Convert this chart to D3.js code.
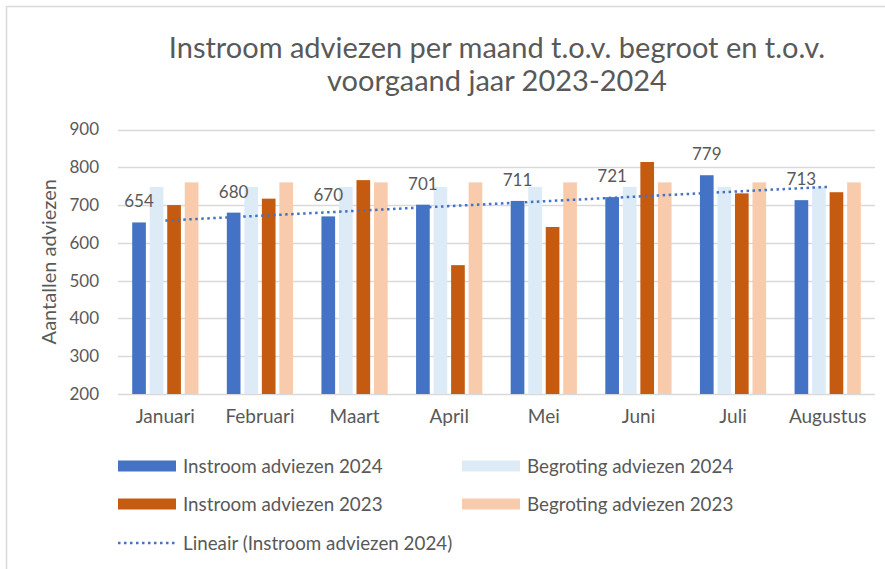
<!DOCTYPE html>
<html>
<head>
<meta charset="utf-8">
<script src="https://cdn.jsdelivr.net/npm/d3@7"></script>
<style>
  html, body { margin: 0; padding: 0; background: #fff; }
  svg { display: block; }
  text { font-family: Lato, "Open Sans", sans-serif; fill: #595959; }
</style>
</head>
<body>
<svg id="chart" width="885" height="569"></svg>
<script>
// ---- Data ----
const months = ["Januari", "Februari", "Maart", "April", "Mei", "Juni", "Juli", "Augustus"];
const instroom2024 = [654, 680, 670, 701, 711, 721, 779, 713];
const begroting2024 = [748, 748, 748, 748, 748, 748, 748, 748];
const instroom2023 = [700, 717, 766, 541, 642, 814, 731, 734];
const begroting2023 = [760, 760, 760, 760, 760, 760, 760, 760];
const yTicks = [200, 300, 400, 500, 600, 700, 800, 900];

const seriesNames = ["Instroom adviezen 2024", "Begroting adviezen 2024", "Instroom adviezen 2023", "Begroting adviezen 2023"];
const seriesValues = [instroom2024, begroting2024, instroom2023, begroting2023];
const colors = ["#4472C4", "#DDEBF7", "#C55A11", "#F8CBAD"];
const trendName = "Lineair (Instroom adviezen 2024)";

const svg = d3.select("#chart");

// chart border
svg.append("rect").attr("x", 6.5).attr("y", 6.5).attr("width", 900).attr("height", 600)
  .attr("fill", "none").attr("stroke", "#d9d9d9").attr("stroke-width", 1.5);

const plot = { left: 118, right: 875, top: 129.5, bottom: 394 };

const x0 = d3.scaleBand().domain(months).range([plot.left, plot.right]).paddingInner(0).paddingOuter(0);
const groupPad = 0.15;
const x1 = d3.scaleBand().domain(d3.range(4))
  .range([x0.bandwidth() * groupPad, x0.bandwidth() * (1 - groupPad)]).paddingInner(0.22);
const y = d3.scaleLinear().domain([200, 900]).range([plot.bottom, plot.top]);

// gridlines
svg.append("g").selectAll("line").data(yTicks).join("line")
  .attr("x1", plot.left).attr("x2", plot.right)
  .attr("y1", d => Math.round(y(d)) + 0.5).attr("y2", d => Math.round(y(d)) + 0.5)
  .attr("stroke", "#d9d9d9").attr("stroke-width", 1.5);

// y axis labels
const yAxis = d3.axisLeft(y).tickValues(yTicks).tickSize(0).tickPadding(0);
const yg = svg.append("g").attr("transform", `translate(${plot.left - 19},0)`).call(yAxis);
yg.select(".domain").remove();
yg.selectAll("text").attr("font-size", 17).style("fill", "#595959").attr("font-family", "Lato");

// x axis labels
const xAxis = d3.axisBottom(x0).tickSize(0).tickPadding(0);
const xg = svg.append("g").attr("transform", `translate(0,${plot.bottom + 15})`).call(xAxis);
xg.select(".domain").remove();
xg.selectAll("text").attr("font-size", 19).style("fill", "#595959").attr("font-family", "Lato");

// bars
const groups = svg.append("g").selectAll("g").data(months).join("g")
  .attr("transform", d => `translate(${x0(d)},0)`);
groups.selectAll("rect").data((m, i) => seriesValues.map((s, k) => ({ k, v: s[i] }))).join("rect")
  .attr("x", d => x1(d.k)).attr("width", x1.bandwidth())
  .attr("y", d => y(d.v)).attr("height", d => y(200) - y(d.v))
  .attr("fill", d => colors[d.k]);

// data labels for Instroom 2024
svg.append("g").selectAll("text").data(instroom2024).join("text")
  .attr("x", (v, i) => x0(months[i]) + x1(0) + x1.bandwidth() / 2)
  .attr("y", v => y(v) - 15)
  .attr("text-anchor", "middle").attr("font-size", 17)
  .text(v => v);

// linear trend line (least squares over instroom2024)
const n = instroom2024.length;
const xs = d3.range(1, n + 1);
const mx = d3.mean(xs), my = d3.mean(instroom2024);
const slope = d3.sum(xs.map((xv, i) => (xv - mx) * (instroom2024[i] - my))) / d3.sum(xs.map(xv => (xv - mx) ** 2));
const icpt = my - slope * mx;
const trend = xs.map(xv => ({ m: months[xv - 1], v: icpt + slope * xv }));
svg.append("path").datum(trend)
  .attr("d", d3.line().x(d => x0(d.m) + x0.bandwidth() / 2).y(d => y(d.v)))
  .attr("fill", "none").attr("stroke", "#4472C4").attr("stroke-width", 2.5)
  .attr("stroke-dasharray", "2.5 3.5").attr("stroke-linecap", "butt");

// title
const title = svg.append("text").attr("text-anchor", "middle").attr("font-size", 29).style("fill", "#595959");
title.append("tspan").attr("x", 497).attr("y", 58).text("Instroom adviezen per maand t.o.v. begroot en t.o.v.");
title.append("tspan").attr("x", 497).attr("y", 91).text("voorgaand jaar 2023-2024");

// y axis title
svg.append("text").attr("transform", `translate(56,${(plot.top + plot.bottom) / 2}) rotate(-90)`)
  .attr("text-anchor", "middle").attr("font-size", 20).text("Aantallen adviezen");

// legend
const legendItems = [
  { name: seriesNames[0], color: colors[0], col: 0, row: 0 },
  { name: seriesNames[1], color: colors[1], col: 1, row: 0 },
  { name: seriesNames[2], color: colors[2], col: 0, row: 1 },
  { name: seriesNames[3], color: colors[3], col: 1, row: 1 },
];
const legCols = [118, 462], legRows = [466, 504, 543];
const lg = svg.append("g");
legendItems.forEach(it => {
  lg.append("rect").attr("x", legCols[it.col]).attr("y", legRows[it.row] - 5.5)
    .attr("width", 58).attr("height", 11).attr("fill", it.color);
  lg.append("text").attr("x", legCols[it.col] + 65).attr("y", legRows[it.row]).attr("dy", "0.35em")
    .attr("font-size", 18.8).text(it.name);
});
lg.append("line").attr("x1", legCols[0]).attr("x2", legCols[0] + 58)
  .attr("y1", legRows[2]).attr("y2", legRows[2])
  .attr("stroke", "#4472C4").attr("stroke-width", 2.5).attr("stroke-dasharray", "2.5 3.5");
lg.append("text").attr("x", legCols[0] + 65).attr("y", legRows[2]).attr("dy", "0.35em")
  .attr("font-size", 18.8).text(trendName);
</script>
</body>
</html>
